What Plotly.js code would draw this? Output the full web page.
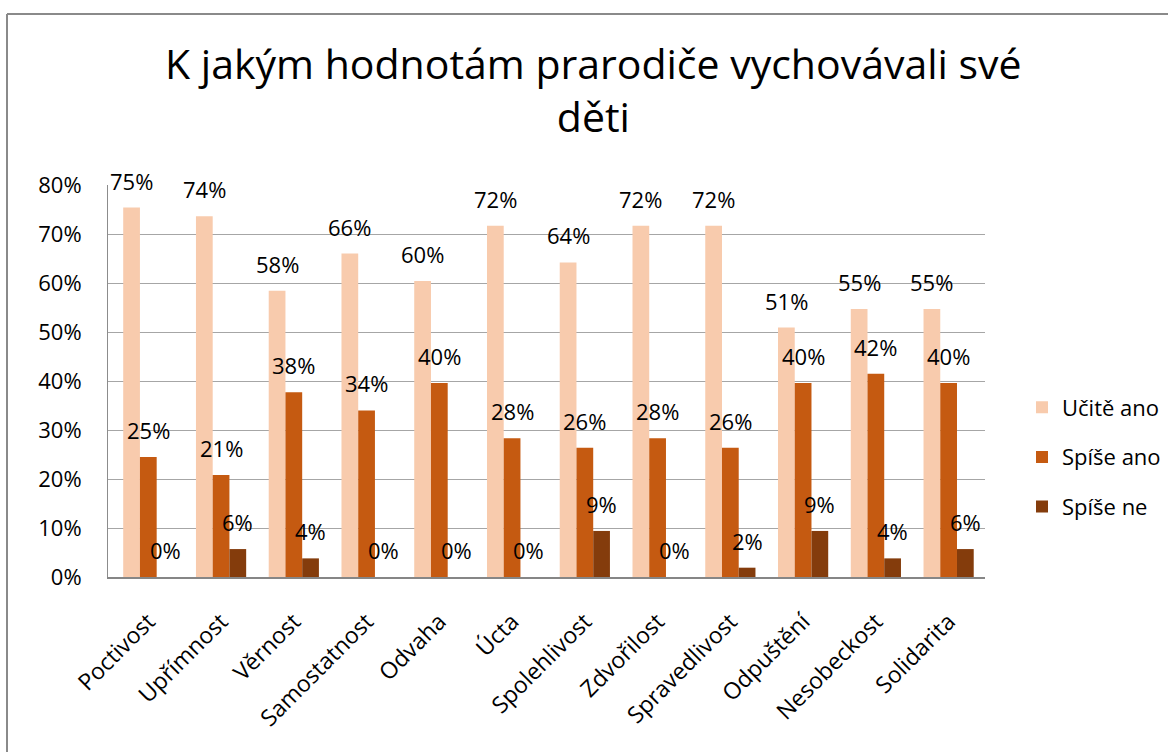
<!DOCTYPE html>
<html><head><meta charset="utf-8">
<script src="https://cdn.plot.ly/plotly-3.0.1.min.js"></script>
<style>html,body{margin:0;padding:0;background:#fff;}#chart{width:1168px;height:752px;}</style>
</head><body><div id="chart"></div>
<script>
var categories = ["Poctivost","Upřímnost","Věrnost","Samostatnost","Odvaha","Úcta","Spolehlivost","Zdvořilost","Spravedlivost","Odpuštění","Nesobeckost","Solidarita"];
var seriesNames = ["Učitě ano","Spíše ano","Spíše ne"];
var ucite = [75.4, 73.6, 58.4, 66.0, 60.4, 71.7, 64.2, 71.7, 71.7, 50.9, 54.7, 54.7];
var spiseAno = [24.5, 20.8, 37.7, 34.0, 39.6, 28.3, 26.4, 28.3, 26.4, 39.6, 41.5, 39.6];
var spiseNe = [0.0, 5.7, 3.8, 0.0, 0.0, 0.0, 9.4, 0.0, 1.9, 9.4, 3.8, 5.7];
var colors = ["#F8CBAD","#C55A11","#843C0C"];
var seriesVals = [ucite, spiseAno, spiseNe];

var FONT = "Open Sans";
var L = 108, R = 183, T = 185, B = 175, W = 1168, H = 752;
var plotW = W - L - R;
var bargap = 0.31;
var catW = plotW / categories.length;
var barW = catW * (1 - bargap) / 3;

var traces = seriesVals.map(function(v, i){
  return {type:'bar', name: seriesNames[i], x: categories, y: v,
    marker:{color: colors[i]}, legendgroup: 'g'+i, hoverinfo:'x+y'};
});

var annotations = [];
seriesVals.forEach(function(v, i){
  v.forEach(function(val, j){
    annotations.push({x: categories[j], y: val, xref:'x', yref:'y',
      text: Math.round(val) + '%', showarrow:false,
      xshift: (i - 1) * barW, yshift: 27, yanchor:'middle', xanchor:'center',
      font:{family:FONT, size:22, color:'#000'}});
  });
});

var shapes = [
  {type:'line', xref:'paper', yref:'paper', x0:(7-L)/plotW, x1:(7-L)/plotW, y0:(H-B-14)/(H-T-B), y1:(H-B-760)/(H-T-B), line:{color:'#8a8a8a', width:2}},
  {type:'line', xref:'paper', yref:'paper', x0:(7-L)/plotW, x1:(1175-L)/plotW, y0:(H-B-14)/(H-T-B), y1:(H-B-14)/(H-T-B), line:{color:'#8a8a8a', width:2}}
];

var layout = {
  width: W, height: H,
  margin:{l:L, r:R, t:T, b:B, autoexpand:false},
  paper_bgcolor:'#fff', plot_bgcolor:'#fff',
  font:{family:FONT, color:'#000'},
  title:{text:'K jakým hodnotám prarodiče vychovávali své<br>děti', font:{family:FONT, size:41, color:'#000'},
    xref:'container', x:0.508, xanchor:'center', yref:'container', y:1-79/752, yanchor:'top'},
  barmode:'group', bargap: bargap, bargroupgap: 0,
  xaxis:{type:'category', tickangle:-45, tickfont:{family:FONT, size:23, color:'#000'},
    showline:true, linecolor:'#868686', linewidth:2, ticks:'', showgrid:false, ticklabelstandoff:20, fixedrange:true, automargin:false},
  yaxis:{range:[0,80], dtick:10, ticksuffix:'%', tickfont:{family:FONT, size:22, color:'#000'},
    showgrid:true, gridcolor:'#A6A6A6', gridwidth:1, showline:true, linecolor:'#8c8c8c', linewidth:1,
    ticks:'', zeroline:false, ticklabelstandoff:21, fixedrange:true, automargin:false},
  legend:{x:(1022-L)/plotW, xanchor:'left', y:(H-B-457)/(H-T-B), yanchor:'middle',
    font:{family:FONT, size:22, color:'#000'}, tracegroupgap:18, bgcolor:'rgba(0,0,0,0)'},
  showlegend:true,
  annotations: annotations,
  shapes: shapes
};
Plotly.newPlot('chart', traces, layout, {displayModeBar:false, staticPlot:true});
</script></body></html>
